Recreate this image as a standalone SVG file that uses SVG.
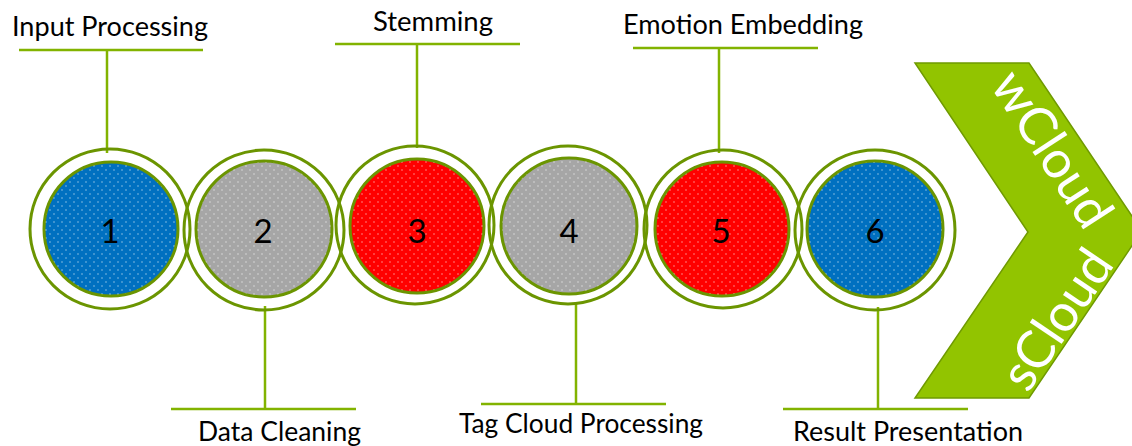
<svg xmlns="http://www.w3.org/2000/svg" width="1132" height="446" viewBox="0 0 1132 446">
<style>
.lbl{font-family:Lato,"Open Sans","Liberation Sans",sans-serif;font-size:27px;fill:#000}
.num{font-family:Lato,"Open Sans","Liberation Sans",sans-serif;font-size:33px;fill:#000;text-anchor:middle}
.ring{fill:none;stroke:#6b9500;stroke-width:3}
.core{stroke:#6b9500;stroke-width:3}
.dots{fill:url(#dots);stroke:none}
.conn{stroke:#82b300;stroke-width:2.5;fill:none}
.cv{font-family:Lato,"Open Sans","Liberation Sans",sans-serif;font-size:52px;fill:#fff;text-anchor:middle;dominant-baseline:central}
</style>
<defs>
<pattern id="dots" width="8" height="8" patternUnits="userSpaceOnUse">
<circle cx="2" cy="2" r="0.8" fill="#fff" fill-opacity="0.55"/>
<circle cx="6" cy="6" r="0.8" fill="#fff" fill-opacity="0.55"/>
</pattern>
</defs>
<rect width="1132" height="446" fill="#fff"/>
<g id="connectors">
<path class="conn" d="M19 50H203M107 50V153"/>
<path class="conn" d="M335 44H520M417 44V148"/>
<path class="conn" d="M633 48H818M719 48V153"/>
<path class="conn" d="M171 409H356M265 306V409"/>
<path class="conn" d="M481 404H666M576 302V404"/>
<path class="conn" d="M783 409H968M878 307V409"/>
</g>
<g id="chevron">
<polygon points="915,63 1029,63 1142,231 1029,398 915,398 1028,232" fill="#92c400" stroke="#6f9a00" stroke-width="1.5"/>
<text class="cv" transform="translate(1054,148) rotate(57)">wCloud</text>
<text class="cv" transform="translate(1055,318) rotate(-56)">sCloud</text>
</g>
<g id="node1">
<circle class="ring" cx="110" cy="229" r="80"/>
<circle class="core" cx="111" cy="229" r="67" fill="#0070c0"/>
<circle class="dots" cx="111" cy="229" r="66"/>
<text class="num" x="110" y="243">1</text>
</g>
<g id="node2">
<circle class="ring" cx="264" cy="230" r="80"/>
<circle class="core" cx="264" cy="229" r="68" fill="#a6a6a6"/>
<circle class="dots" cx="264" cy="229" r="67"/>
<text class="num" x="263" y="243">2</text>
</g>
<g id="node3">
<circle class="ring" cx="415" cy="225" r="79"/>
<circle class="core" cx="417" cy="226" r="67" fill="#ff0000"/>
<circle class="dots" cx="417" cy="226" r="66"/>
<text class="num" x="417" y="243">3</text>
</g>
<g id="node4">
<circle class="ring" cx="568" cy="225" r="79"/>
<circle class="core" cx="569" cy="226" r="68" fill="#a6a6a6"/>
<circle class="dots" cx="569" cy="226" r="67"/>
<text class="num" x="569" y="243">4</text>
</g>
<g id="node5">
<circle class="ring" cx="723" cy="229" r="79"/>
<circle class="core" cx="722" cy="229" r="67" fill="#ff0000"/>
<circle class="dots" cx="722" cy="229" r="66"/>
<text class="num" x="721" y="243">5</text>
</g>
<g id="node6">
<circle class="ring" cx="875" cy="230" r="80"/>
<circle class="core" cx="875" cy="229" r="68" fill="#0070c0"/>
<circle class="dots" cx="875" cy="229" r="67"/>
<text class="num" x="875" y="243">6</text>
</g>
<g id="labels">
<text class="lbl" x="12" y="36" textLength="196" lengthAdjust="spacingAndGlyphs">Input Processing</text>
<text class="lbl" x="373" y="31" textLength="120" lengthAdjust="spacingAndGlyphs">Stemming</text>
<text class="lbl" x="623" y="34" textLength="240" lengthAdjust="spacingAndGlyphs">Emotion Embedding</text>
<text class="lbl" x="198" y="441" textLength="163" lengthAdjust="spacingAndGlyphs">Data Cleaning</text>
<text class="lbl" x="459" y="433" textLength="244" lengthAdjust="spacingAndGlyphs">Tag Cloud Processing</text>
<text class="lbl" x="793" y="441" textLength="230" lengthAdjust="spacingAndGlyphs">Result Presentation</text>
</g>
</svg>
